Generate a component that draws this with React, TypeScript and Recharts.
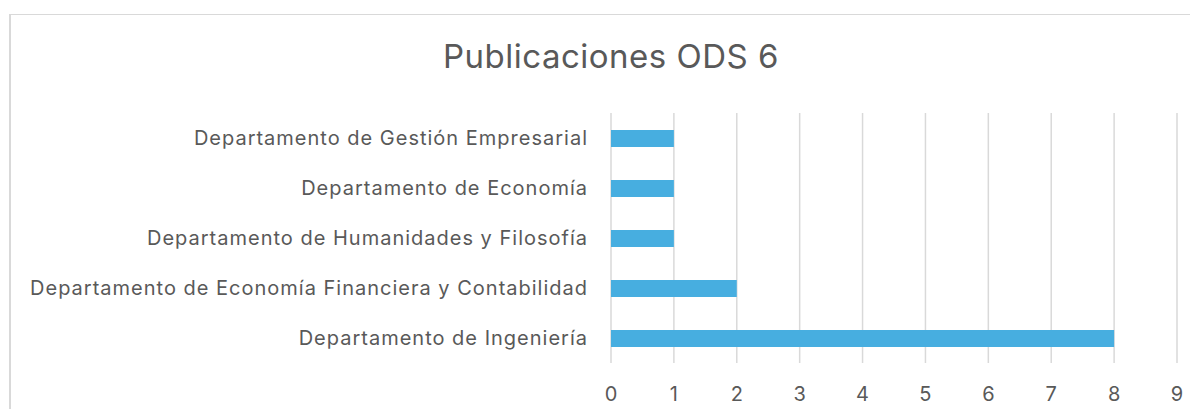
import React from "react";
import { BarChart, Bar, XAxis, YAxis, CartesianGrid } from "recharts";

const departamentos = [
  "Departamento de Gestión Empresarial",
  "Departamento de Economía",
  "Departamento de Humanidades y Filosofía",
  "Departamento de Economía Financiera y Contabilidad",
  "Departamento de Ingeniería",
];
const publicaciones = [1, 1, 1, 2, 8];
const xTicks = [0, 1, 2, 3, 4, 5, 6, 7, 8, 9];

const data = departamentos.map((nombre, i) => ({
  nombre,
  valor: publicaciones[i],
}));

const FONT = "Inter, sans-serif";
const GRIS = "#595959";

export default function App() {
  return (
    <div style={{ position: "relative", width: 1182, height: 401, fontFamily: FONT }}>
      <div
        style={{
          position: "absolute",
          left: 1,
          top: 6,
          right: -20,
          bottom: -20,
          borderTop: "1.5px solid #d9d9d9",
          borderLeft: "2px solid #d9d9d9",
        }}
      />
      <div
        style={{
          position: "absolute",
          left: 353,
          width: 500,
          top: 27,
          textAlign: "center",
          fontSize: 33,
          letterSpacing: 0.5,
          color: GRIS,
          lineHeight: "42px",
        }}
      >
        Publicaciones ODS 6
      </div>
      <BarChart
        width={1182}
        height={401}
        data={data}
        layout="vertical"
        margin={{ top: 105, right: 13, left: 0, bottom: 7 }}
        style={{ position: "absolute", left: 0, top: 0 }}
      >
        <CartesianGrid horizontal={false} stroke="#d9d9d9" strokeWidth={1.5} />
        <XAxis
          type="number"
          domain={[0, 9]}
          ticks={xTicks}
          tickLine={false}
          axisLine={false}
          height={39}
          tickSize={0}
          tickMargin={24}
          tick={{ fill: GRIS, fontSize: 20, fontFamily: FONT }}
        />
        <YAxis
          type="category"
          dataKey="nombre"
          width={603}
          tickLine={false}
          axisLine={false}
          tickSize={0}
          tickMargin={23}
          tick={{ fill: GRIS, fontSize: 20, fontFamily: FONT, letterSpacing: 1 }}
        />
        <Bar dataKey="valor" fill="#47aee0" barSize={17} isAnimationActive={false} />
      </BarChart>
    </div>
  );
}
